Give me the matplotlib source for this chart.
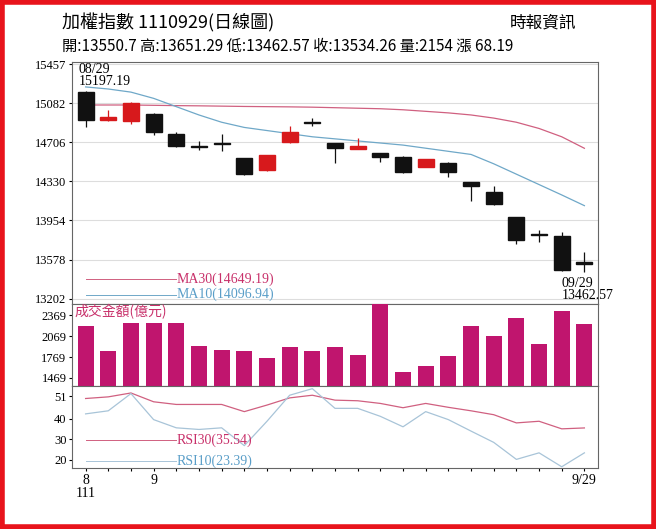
import matplotlib
matplotlib.use("Agg")
import matplotlib.pyplot as plt
from matplotlib.patches import Rectangle
import numpy as np

opens  = [15190,14920,14910,14982,14785,14670,14700,14556,14440,14706,14895,14697,14645,14600,14565,14472,14512,14321,14227,13986,13815,13805,13550.7]
closes = [14925,14950,15090,14807,14670,14665,14690,14403,14580,14810,14890,14653,14670,14562,14418,14543,14418,14284,14112,13767,13812,13480,13534.26]
highs  = [15197.19,15020,15095,14985,14805,14720,14785,14560,14585,14863,14940,14700,14744,14605,14575,14545,14520,14325,14284,13990,13860,13840,13651.29]
lows   = [14850,14915,14880,14775,14665,14637,14620,14390,14435,14700,14860,14512,14640,14515,14415,14470,14370,14143,14105,13730,13745,13470,13462.57]
ma30 = [15066,15066,15066,15063,15060,15058,15055,15052,15050,15048,15045,15040,15035,15030,15020,15005,14990,14970,14940,14900,14840,14760,14649.19]
ma10 = [15240,15220,15190,15130,15050,14970,14900,14850,14820,14790,14760,14740,14720,14700,14680,14650,14620,14590,14500,14400,14300,14200,14096.94]
volume = [2214,1861,2263,2263,2263,1933,1875,1851,1754,1909,1861,1909,1803,2560,1561,1633,1779,2214,2069,2335,1958,2432,2248]
rsi30 = [49.9,50.7,52.6,48.3,47.0,47.0,47.0,43.5,46.7,50.2,51.5,49.1,48.8,47.5,45.4,47.5,45.6,43.9,42.0,38.0,38.8,35.1,35.54]
rsi10 = [42.4,43.9,52.3,39.6,35.6,34.8,35.6,26.9,38.8,51.5,54.7,45.1,45.1,41.2,36.1,43.5,39.6,34.0,28.5,20.2,23.4,16.6,23.39]
price_ticks = [13202,13578,13954,14330,14706,15082,15457]
vol_ticks = [1469,1769,2069,2369]
rsi_ticks = [20,30,40,51]

CJK = ['Noto Sans CJK TC','DejaVu Sans']
SER = ['Liberation Serif','Noto Sans CJK TC']
fig = plt.figure(figsize=(6.56,5.29), dpi=100)
fig.patches.append(Rectangle((0.003,0.003),0.994,0.994,transform=fig.transFigure,fill=False,ec='#e8141c',lw=4))
W,H = 656,529
def ax_at(x0,y0,x1,y1):
    return fig.add_axes([x0/W,1-y1/H,(x1-x0)/W,(y1-y0)/H])
L,R = 72,598
ax1 = ax_at(L,62,R,304)
ax2 = ax_at(L,304,R,386)
ax3 = ax_at(L,386,R,468)
n = len(opens); x = np.arange(n)
for a in (ax1,ax2,ax3):
    a.set_xlim(-0.6,n-0.4)
    a.set_xticks([])
    for s in a.spines.values(): s.set_color('#666666'); s.set_linewidth(0.8)
    a.tick_params(axis='y',length=2,labelsize=9,pad=2)

for i in range(n):
    up = closes[i] >= opens[i]
    c = '#d7191c' if up else '#111111'
    ax1.vlines(i,lows[i],highs[i],color=c,lw=0.9,zorder=3)
    lo,hi = min(opens[i],closes[i]),max(opens[i],closes[i])
    hgt = max(hi-lo,8)
    ax1.add_patch(Rectangle((i-0.35,lo),0.7,hgt,fc=c,ec=c,zorder=4))
ax1.plot(x,ma30,color='#d06080',lw=0.9,zorder=2)
ax1.plot(x,ma10,color='#6fa8c8',lw=0.9,zorder=2)
ax1.set_ylim(13150,15480)
ax1.set_yticks(price_ticks)
ax1.set_yticklabels([str(v) for v in price_ticks],family=SER)
ax1.grid(axis='y',color='#dddddd',lw=0.8)
ax1.text(-0.3,15230,'08/29\n15197.19',fontsize=10,family=SER,va='bottom',linespacing=0.85)
ax1.text(21.0,13170,'09/29\n13462.57',fontsize=10,family=SER,va='bottom',linespacing=0.85)
ax1.plot([0,4],[13390,13390],color='#d06080',lw=0.7)
ax1.plot([0,4],[13240,13240],color='#6fa8c8',lw=0.7)
ax1.text(4.0,13390,'MA30(14649.19)',color='#c8306a',fontsize=10,family=SER,va='center')
ax1.text(4.0,13240,'MA10(14096.94)',color='#5a9ec8',fontsize=10,family=SER,va='center')

ax2.bar(x,volume,width=0.7,color='#c0156e',zorder=3)
ax2.set_ylim(1353,2530)
ax2.set_yticks(vol_ticks)
ax2.set_yticklabels([str(v) for v in vol_ticks],family=SER)
ax2.text(-0.5,2420,'成交金額(億元)',color='#c8306a',fontsize=10,family=CJK,va='center')

ax3.plot(x,rsi30,color='#d06080',lw=0.9)
ax3.plot(x,rsi10,color='#a8c4d8',lw=0.9)
ax3.set_ylim(16,56)
ax3.set_yticks(rsi_ticks)
ax3.set_yticklabels([str(v) for v in rsi_ticks],family=SER)
ax3.plot([0,4],[29.5,29.5],color='#d06080',lw=0.7)
ax3.plot([0,4],[19.5,19.5],color='#a8c4d8',lw=0.7)
ax3.text(4.0,29.5,'RSI30(35.54)',color='#c8306a',fontsize=10,family=SER,va='center')
ax3.text(4.0,19.5,'RSI10(23.39)',color='#5a9ec8',fontsize=10,family=SER,va='center')
ax3.set_xticks(x); ax3.tick_params(axis='x',length=2,labelbottom=False)
ax3.text(0,13,'8\n111',fontsize=10,family=SER,va='top',ha='center',linespacing=1.0)
ax3.text(3,13,'9',fontsize=10,family=SER,va='top',ha='center')
ax3.text(22,13,'9/29',fontsize=10,family=SER,va='top',ha='center')

fig.text(62/W,1-23/H,'加權指數 1110929(日線圖)',fontsize=13,family=CJK,va='center')
fig.text(510/W,1-23/H,'時報資訊',fontsize=12,family=CJK,va='center')
fig.text(62/W,1-46/H,'開:13550.7 高:13651.29 低:13462.57 收:13534.26 量:2154 漲 68.19',fontsize=11,family=CJK,va='center')
fig.savefig('out.png',dpi=100)
